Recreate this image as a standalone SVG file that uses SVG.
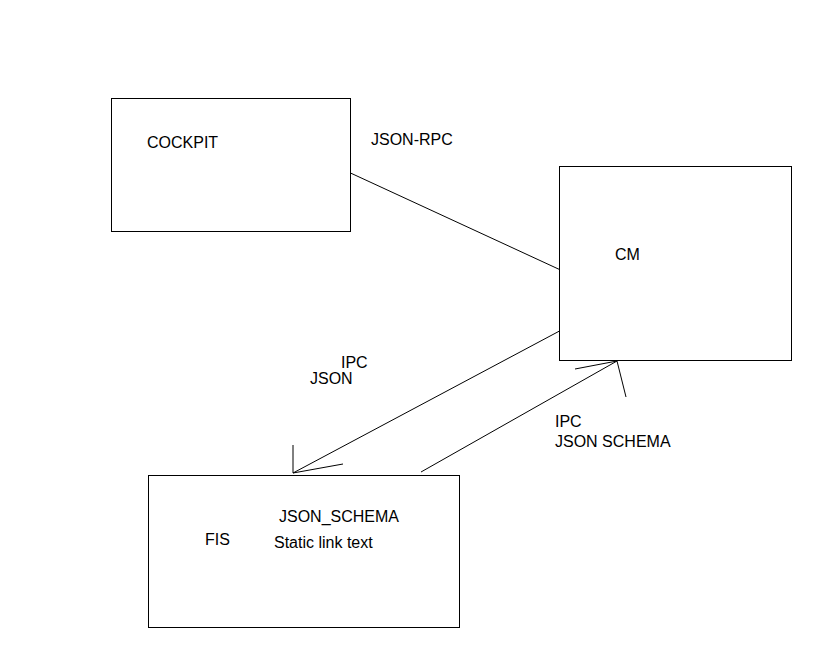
<svg xmlns="http://www.w3.org/2000/svg" width="833" height="660" viewBox="0 0 833 660">
<style>
.box{fill:#fff;stroke:#000;stroke-width:1}
.ln{stroke:#000;stroke-width:1;fill:none}
text{font-family:"Liberation Sans",Arial,sans-serif;font-size:16px;fill:#000}
</style>
<rect width="833" height="660" fill="#fff"/>
<g id="cockpit"><rect class="box" x="111.5" y="98.5" width="239" height="133"/><text x="147" y="148">COCKPIT</text></g>
<g id="cm"><rect class="box" x="559.5" y="166.5" width="232" height="194"/><text x="615" y="260">CM</text></g>
<g id="fis"><rect class="box" x="148.5" y="475.5" width="311" height="152"/><text x="205" y="545">FIS</text><text x="279" y="522">JSON_SCHEMA</text><text x="274" y="548">Static link text</text></g>
<g id="connectors">
<line class="ln" x1="350.5" y1="173" x2="559.5" y2="269.5"/>
<line class="ln" x1="559.5" y1="331" x2="293" y2="473"/>
<line class="ln" x1="293" y1="473" x2="293" y2="445"/>
<line class="ln" x1="293" y1="473" x2="343" y2="464"/>
<line class="ln" x1="421" y1="472" x2="617" y2="361"/>
<line class="ln" x1="617" y1="361" x2="575" y2="369"/>
<line class="ln" x1="617" y1="361" x2="626" y2="397"/>
<text x="371" y="145">JSON-RPC</text>
<text x="341" y="368">IPC</text>
<text x="310" y="384">JSON</text>
<text x="555" y="427">IPC</text>
<text x="555" y="447">JSON SCHEMA</text>
</g>
</svg>
